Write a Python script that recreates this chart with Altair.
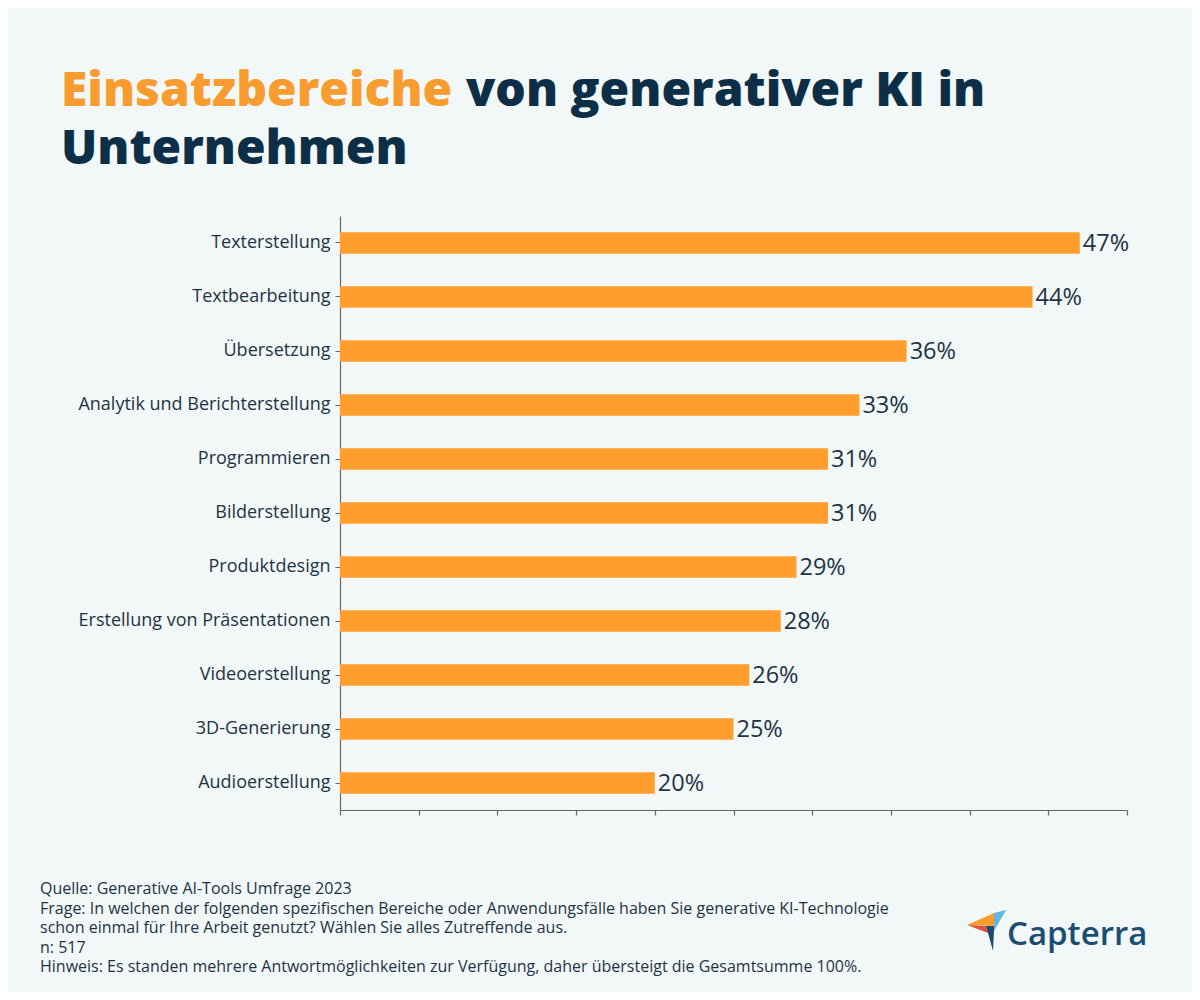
import altair as alt
import pandas as pd

categories = ["Texterstellung", "Textbearbeitung", "Übersetzung", "Analytik und Berichterstellung",
              "Programmieren", "Bilderstellung", "Produktdesign", "Erstellung von Präsentationen",
              "Videoerstellung", "3D-Generierung", "Audioerstellung"]
values = [47, 44, 36, 33, 31, 31, 29, 28, 26, 25, 20]
value_labels = [f"{v}%" for v in values]

title_orange = "Einsatzbereiche"
title_rest_1 = "von generativer KI in"
title_line_2 = "Unternehmen"
footer_lines = [
    "Quelle: Generative AI-Tools Umfrage 2023",
    "Frage: In welchen der folgenden spezifischen Bereiche oder Anwendungsfälle haben Sie generative KI-Technologie",
    "schon einmal für Ihre Arbeit genutzt? Wählen Sie alles Zutreffende aus.",
    "n: 517",
    "Hinweis: Es standen mehrere Antwortmöglichkeiten zur Verfügung, daher übersteigt die Gesamtsumme 100%.",
]
logo_text = "Capterra"

ORANGE = "#ff9e2d"
TITLE_ORANGE = "#f89c2f"
NAVY = "#0d2e47"
TEXT = "#1e3444"
BG = "#f2f7f7"
FONT = "Open Sans"

df = pd.DataFrame({"cat": categories, "val": values, "lab": value_labels})

W, H = 787, 594
OX, OY = 340, 216  # plot origin on page

x_scale = alt.Scale(domain=[0, 50], nice=False)
y_scale = alt.Scale(domain=categories, paddingInner=0.6, paddingOuter=0.3)

bars = alt.Chart(df).mark_bar(color=ORANGE).encode(
    x=alt.X("val:Q", scale=x_scale,
            axis=alt.Axis(values=list(range(0, 51, 5)), labels=False, title=None, grid=False,
                          domainColor="#666666", tickColor="#666666", tickSize=5,
                          domainWidth=1.2, tickWidth=1.2)),
    y=alt.Y("cat:N", scale=y_scale, sort=categories,
            axis=alt.Axis(title=None, labelFont=FONT, labelFontSize=18, labelColor=TEXT,
                          labelPadding=5, tickSize=5, tickColor="#666666", domainColor="#666666",
                          domainWidth=1.2, labelLimit=400)),
)

labels = alt.Chart(df).mark_text(align="left", baseline="middle", dx=3, dy=1, font=FONT,
                                 fontSize=23.5, color=TEXT).encode(
    x=alt.X("val:Q", scale=x_scale),
    y=alt.Y("cat:N", scale=y_scale, sort=categories),
    text="lab:N",
)

one = pd.DataFrame({"k": [0]})

def txt(text, px, py, size, color, weight="normal", align="left"):
    return alt.Chart(one).mark_text(text=text, align=align, baseline="alphabetic", font=FONT,
                                    fontSize=size, fontWeight=weight, color=color).encode(
        x=alt.value(px - OX), y=alt.value(py - OY))

layers = [bars, labels,
          txt(title_orange, 61, 106, 48, TITLE_ORANGE, 800),
          txt(title_rest_1, 466, 106, 48, NAVY, 800),
          txt(title_line_2, 61, 164, 48, NAVY, 800)]

fy = [894, 913.5, 933, 952.5, 972]
for line, yy in zip(footer_lines, fy):
    layers.append(txt(line, 40, yy, 16, TEXT))

layers.append(txt(logo_text, 1007, 945, 33, "#1b4c72", 600))

# logo icon (normalized [-1,1] paths)
icon_paths = [
    ("M -0.95 -0.25 L 0.4 -0.85 L 0.4 -0.2 Z", "#f89c2f"),
    ("M -0.95 -0.25 L 0 -0.2 L 0.1 0.15 Z", "#e0533b"),
    ("M 0.4 -0.85 L 1 -1 L 0.4 0.05 Z", "#62b5e5"),
    ("M 0 -0.2 L 0.4 -0.2 L 0.4 0.05 L 0.35 1.05 Z", "#1b4c72"),
]
for path, col in icon_paths:
    layers.append(alt.Chart(one).mark_point(shape=path, filled=True, color=col, opacity=1,
                                            size=1600, strokeWidth=0).encode(
        x=alt.value(986 - OX), y=alt.value(930 - OY)))

chart = alt.layer(*layers).properties(
    width=W, height=H,
    background=BG,
    padding={"left": OX - 8, "top": OY - 8, "right": 1200 - 16 - (OX - 8) - W,
             "bottom": 1000 - 16 - (OY - 8) - H},
    autosize=alt.AutoSizeParams(type="none"),
).configure_view(stroke=None)

chart.save("out.html", embed_options={"renderer": "svg", "actions": False})
